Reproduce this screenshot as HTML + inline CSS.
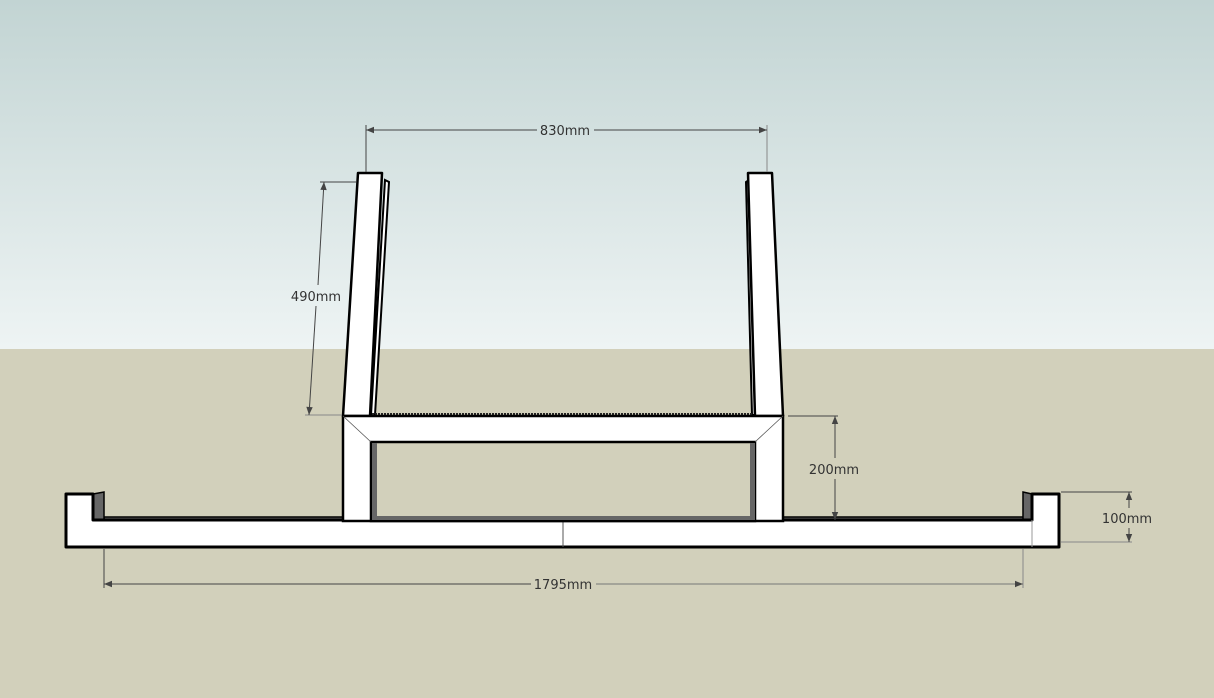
<!DOCTYPE html>
<html><head><meta charset="utf-8"><style>
html,body{margin:0;padding:0;width:1214px;height:698px;overflow:hidden}
svg{display:block}
text{font-family:"DejaVu Sans","Liberation Sans",sans-serif;font-size:13px;fill:#333}
</style></head><body>
<svg width="1214" height="698" viewBox="0 0 1214 698" xmlns="http://www.w3.org/2000/svg">
<defs>
<linearGradient id="sky" x1="0" y1="0" x2="0" y2="1">
<stop offset="0" stop-color="#c2d4d3"/><stop offset="1" stop-color="#eef4f4"/>
</linearGradient>
<marker id="a" viewBox="0 0 10 10" refX="10" refY="5" markerWidth="10" markerHeight="8" orient="auto-start-reverse" markerUnits="userSpaceOnUse"><path d="M0,1 L10,5 L0,9z" fill="#444"/></marker>
</defs>
<rect width="1214" height="349" fill="url(#sky)"/>
<rect y="349" width="1214" height="349" fill="#d2d0bb"/>

<!-- base -->
<rect x="104" y="517" width="920" height="5" fill="#666" stroke="#000" stroke-width="1.5"/>
<polygon points="93,494 104,492 104,520 93,520" fill="#666" stroke="#000" stroke-width="1.5"/>
<polygon points="1023,492 1032,494 1032,520 1023,520" fill="#666" stroke="#000" stroke-width="1.5"/>
<path d="M66,494 L93,494 L93,520 L1032,520 L1032,494 L1059,494 L1059,547 L66,547 Z" fill="#fff" stroke="#000" stroke-width="3" stroke-linejoin="round"/>
<line x1="563" y1="520" x2="563" y2="547" stroke="#555" stroke-width="1"/>
<line x1="1032" y1="520" x2="1032" y2="547" stroke="#999" stroke-width="1"/>

<!-- legs upper -->
<polygon points="385,180 389,182 375,415 371,415" fill="#fff" stroke="#000" stroke-width="2"/>
<polygon points="358,173 382,173 370,416 343,416" fill="#fff" stroke="#000" stroke-width="2.5" stroke-linejoin="round"/>
<polygon points="749,180 746,182 752,415 756,415" fill="#fff" stroke="#000" stroke-width="2"/>
<polygon points="748,173 772,173 783,416 755,416" fill="#fff" stroke="#000" stroke-width="2.5" stroke-linejoin="round"/>
<line x1="372" y1="414" x2="752" y2="414" stroke="#222" stroke-width="2" stroke-dasharray="2,1"/>

<!-- frame -->
<rect x="343" y="416" width="440" height="105" fill="#fff" stroke="#000" stroke-width="2.5"/>
<rect x="371" y="442" width="384" height="79" fill="#d2d0bb" stroke="#000" stroke-width="2.5"/>
<rect x="372" y="443" width="5" height="77" fill="#666"/>
<rect x="750" y="443" width="5" height="77" fill="#666"/>
<rect x="372" y="516" width="383" height="4" fill="#666"/>
<line x1="343" y1="416" x2="371" y2="442" stroke="#555" stroke-width="0.8"/>
<line x1="783" y1="416" x2="755" y2="442" stroke="#555" stroke-width="0.8"/>

<!-- dims -->
<g stroke="#444" stroke-width="1" fill="none">
<line x1="366" y1="125" x2="366" y2="172"/><line x1="767" y1="125" x2="767" y2="172" stroke="#888"/>
<line x1="366" y1="130" x2="537" y2="130" marker-start="url(#a)"/>
<line x1="594" y1="130" x2="767" y2="130" marker-end="url(#a)"/>
<line x1="320" y1="182" x2="356" y2="182"/><line x1="305" y1="415" x2="342" y2="415" stroke="#888"/>
<line x1="324" y1="182" x2="318" y2="285" marker-start="url(#a)"/>
<line x1="316" y1="306" x2="309" y2="415" marker-end="url(#a)"/>
<line x1="788" y1="416" x2="838" y2="416"/>
<line x1="835" y1="416" x2="835" y2="458" marker-start="url(#a)"/>
<line x1="835" y1="479" x2="835" y2="520" marker-end="url(#a)"/>
<line x1="1061" y1="492" x2="1132" y2="492"/><line x1="1061" y1="542" x2="1132" y2="542" stroke="#888"/>
<line x1="1129" y1="492" x2="1129" y2="508" marker-start="url(#a)"/>
<line x1="1129" y1="528" x2="1129" y2="542" marker-end="url(#a)"/>
<line x1="104" y1="549" x2="104" y2="588"/><line x1="1023" y1="549" x2="1023" y2="588" stroke="#888"/>
<line x1="104" y1="584" x2="531" y2="584" marker-start="url(#a)"/>
<line x1="596" y1="584" x2="1023" y2="584" marker-end="url(#a)" stroke="#777"/>
</g>
<text x="565" y="135" text-anchor="middle">830mm</text>
<text x="316" y="301" text-anchor="middle">490mm</text>
<text x="834" y="474" text-anchor="middle">200mm</text>
<text x="1127" y="523" text-anchor="middle">100mm</text>
<text x="563" y="589" text-anchor="middle">1795mm</text>
</svg>
</body></html>
